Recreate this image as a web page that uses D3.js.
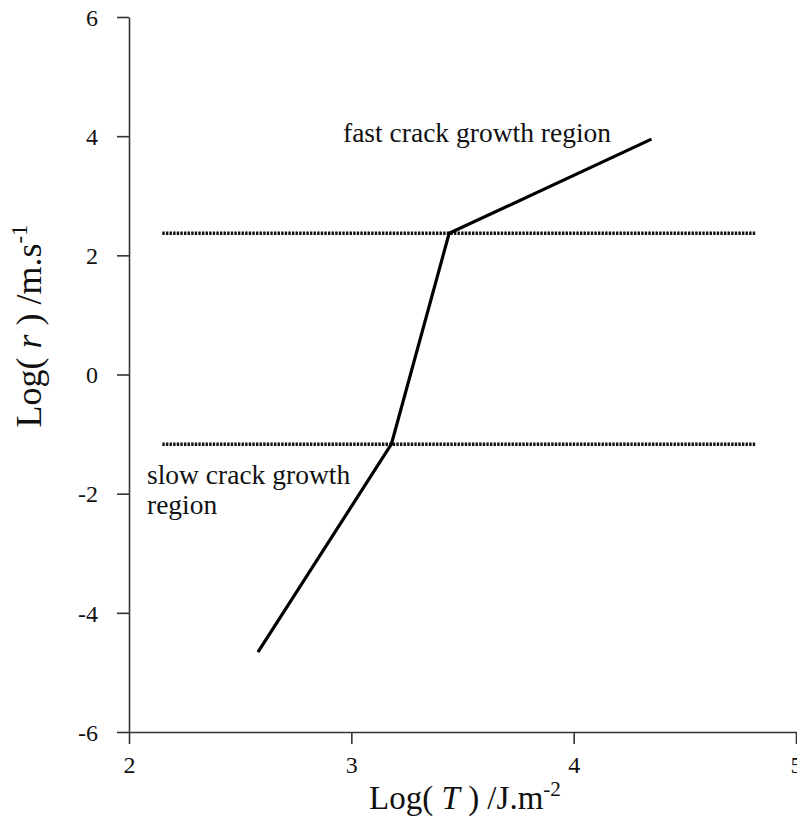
<!DOCTYPE html>
<html>
<head>
<meta charset="utf-8">
<script src="https://cdn.jsdelivr.net/npm/d3@7"></script>
<style>
  body { margin: 0; background: #fff; }
  svg { display: block; font-family: 'Liberation Serif', 'Times New Roman', serif; }
</style>
</head>
<body>
<script>
// crack growth curve
const logT = [2.58, 3.18, 3.44, 4.35];
const logR = [-4.66, -1.17, 2.37, 3.95];
// horizontal region boundaries
const boundaryR = [2.37, -1.17];
const boundarySpan = [2.15, 4.82];
const xTicks = [2, 3, 4, 5];
const yTicks = [-6, -4, -2, 0, 2, 4, 6];

const width = 797, height = 820;
const x = d3.scaleLinear().domain([2, 5]).range([129, 796]);
const y = d3.scaleLinear().domain([-6, 6]).range([732, 17]);

const svg = d3.select('body').append('svg')
    .attr('width', width)
    .attr('height', height);

// axes
const fmt = (d) => String(d);
const xAxis = svg.append('g')
    .attr('transform', 'translate(0,' + y(-6) + ')')
    .call(d3.axisBottom(x).tickValues(xTicks).tickFormat(fmt).tickSize(12).tickSizeOuter(0).tickPadding(12));
const yAxis = svg.append('g')
    .attr('transform', 'translate(' + x(2) + ',0)')
    .call(d3.axisLeft(y).tickValues(yTicks).tickFormat(fmt).tickSize(12).tickSizeOuter(0).tickPadding(19));
[xAxis, yAxis].forEach((g) => {
    g.select('.domain').attr('stroke', '#333').attr('stroke-width', 1.6);
    g.selectAll('.tick line').attr('stroke', '#333').attr('stroke-width', 1.6);
    g.selectAll('.tick text')
        .attr('fill', '#111')
        .attr('font-family', "'Liberation Serif', serif")
        .attr('font-size', 24);
});
yAxis.selectAll('.tick text').attr('dy', '0.34em');

// dotted boundary lines
svg.append('g').selectAll('line')
    .data(boundaryR)
    .join('line')
    .attr('x1', x(boundarySpan[0]))
    .attr('x2', x(boundarySpan[1]))
    .attr('y1', (d) => y(d))
    .attr('y2', (d) => y(d))
    .attr('stroke', '#111')
    .attr('stroke-width', 3.6)
    .attr('stroke-dasharray', '2.4,1.2');

// curve
const pts = logT.map((d, i) => [d, logR[i]]);
svg.append('path')
    .datum(pts)
    .attr('fill', 'none')
    .attr('stroke', '#000')
    .attr('stroke-width', 3.2)
    .attr('stroke-linejoin', 'round')
    .attr('d', d3.line().x((d) => x(d[0])).y((d) => y(d[1])));

// region notes
svg.append('text')
    .attr('x', 343).attr('y', 142)
    .style('font-size', '27.5px').attr('fill', '#111')
    .text('fast crack growth region');
const slow = svg.append('text')
    .attr('x', 147).attr('y', 484)
    .style('font-size', '27.5px').attr('fill', '#111');
slow.append('tspan').attr('x', 147).text('slow crack growth');
slow.append('tspan').attr('x', 147).attr('dy', 30).text('region');

// axis titles
function title(sel, v, unit, sup, size) {
    sel.style('font-size', size + 'px');
    sel.append('tspan').text('Log( ');
    sel.append('tspan').style('font-style', 'italic').text(v);
    sel.append('tspan').text(' ) /' + unit);
    sel.append('tspan').attr('dy', -size * 0.4).style('font-size', (size * 0.64) + 'px').text(sup);
}
const xt = svg.append('text')
    .attr('x', 465).attr('y', 809)
    .attr('text-anchor', 'middle')
    .attr('fill', '#111');
title(xt, 'T', 'J.m', '-2', 33);
const yt = svg.append('text')
    .attr('transform', 'translate(41,326) rotate(-90)')
    .attr('text-anchor', 'middle')
    .attr('fill', '#111');
title(yt, 'r', 'm.s', '-1', 36);
</script>
</body>
</html>
